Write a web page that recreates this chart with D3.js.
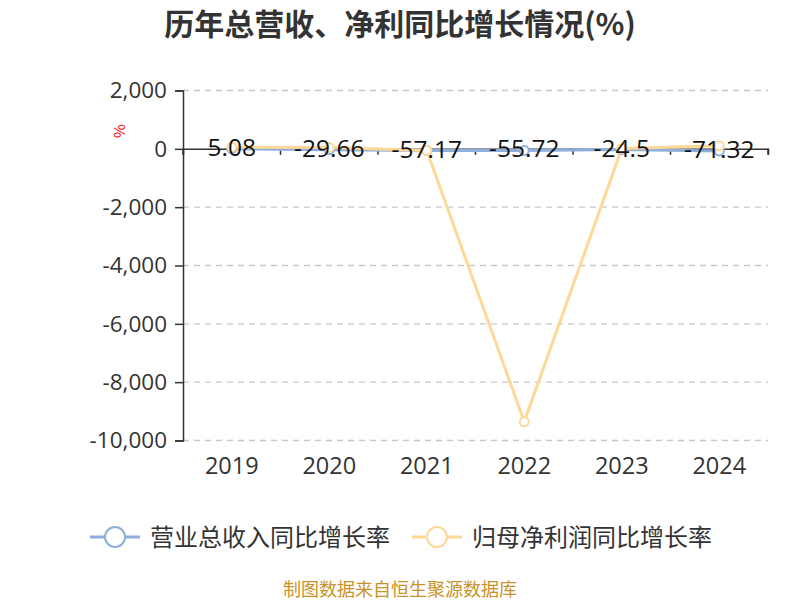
<!DOCTYPE html>
<html><head><meta charset="utf-8">
<script src="https://cdn.jsdelivr.net/npm/d3@7"></script>
<style>body{margin:0;background:#fff;} svg{display:block;font-family:"Microsoft YaHei","Noto Sans CJK SC","Noto Sans",sans-serif;}</style>
</head><body><svg id="c" width="800" height="600"></svg>
<script>
const categories = ["2019","2020","2021","2022","2023","2024"];
const revenueGrowth = [5.08, -29.66, -57.17, -55.72, -24.5, -71.32];
const profitGrowth = [58, 45, -58, -9360, 10, 103];
const yTicks = [2000, 0, -2000, -4000, -6000, -8000, -10000];
const seriesNames = ["营业总收入同比增长率", "归母净利润同比增长率"];
const colors = ["#8eaedc", "#ffd898"];

const svg = d3.select("#c");
const pLeft = 183, pRight = 768, pTop = 90.5, pBottom = 440.5;
const x = d3.scaleBand().domain(categories).range([pLeft, pRight]);
const y = d3.scaleLinear().domain([-10000, 2000]).range([pBottom, pTop]);
const numFont = "'Open Sans','Noto Sans',sans-serif";
const fmt = d => d3.format(",")(d).replace("\u2212", "-");

svg.append("text").attr("x", 400).attr("y", 35).attr("text-anchor", "middle")
  .attr("font-size", 30).attr("font-weight", "bold").attr("fill", "#333")
  .text("历年总营收、净利同比增长情况(%)");

// grid
svg.append("g").selectAll("line").data(yTicks.filter(d => d !== 0)).join("line")
  .attr("x1", pLeft).attr("x2", pRight).attr("y1", d => y(d)).attr("y2", d => y(d))
  .attr("stroke", "#c8c8c8").attr("stroke-dasharray", "6,5").attr("stroke-width", 1.3);

// y axis
const ya = svg.append("g").attr("transform", `translate(${pLeft},0)`)
  .call(d3.axisLeft(y).tickValues(yTicks).tickSize(8).tickPadding(8).tickFormat(fmt));
ya.select(".domain").attr("stroke", "#333").attr("stroke-width", 1.5);
ya.selectAll(".tick line").attr("stroke", "#333").attr("stroke-width", 1.5);
ya.selectAll("text").attr("font-size", 22.5).attr("fill", "#333").attr("font-family", numFont);

svg.append("text").attr("transform", `translate(121,131) rotate(-90)`)
  .attr("text-anchor", "middle").attr("dominant-baseline", "middle")
  .attr("font-size", 15).attr("fill", "#e00").text("%");

// x axis at zero
const xa = svg.append("g").attr("transform", `translate(0,${y(0)})`)
  .call(d3.axisBottom(x).tickSize(6).tickFormat(""));
xa.select(".domain").attr("stroke", "#333").attr("stroke-width", 1.5);
xa.selectAll(".tick line").attr("transform", d => `translate(${-x.bandwidth()/2},0)`)
  .attr("stroke", "#333").attr("stroke-width", 1.5);
xa.append("line").attr("x1", pRight).attr("x2", pRight).attr("y1", 0).attr("y2", 6)
  .attr("stroke", "#333").attr("stroke-width", 1.5);

svg.append("g").selectAll("text").data(categories).join("text")
  .attr("x", d => x(d) + x.bandwidth()/2).attr("y", 474).attr("text-anchor", "middle")
  .attr("font-size", 23.5).attr("fill", "#333").attr("font-family", numFont)
  .text(d => d);

const cx = d => x(d) + x.bandwidth()/2;
const line = d3.line().x((d, i) => cx(categories[i])).y(d => y(d));
[revenueGrowth, profitGrowth].forEach((arr, k) => {
  svg.append("path").datum(arr).attr("d", line).attr("fill", "none")
    .attr("stroke", colors[k]).attr("stroke-width", 3);
});
[revenueGrowth, profitGrowth].forEach((arr, k) => {
  svg.append("g").selectAll("circle").data(arr).join("circle")
    .attr("cx", (d, i) => cx(categories[i])).attr("cy", d => y(d)).attr("r", 4.5)
    .attr("fill", "#fff").attr("stroke", colors[k]).attr("stroke-width", 2);
});

// labels for revenue
svg.append("g").selectAll("text").data(revenueGrowth).join("text")
  .attr("x", (d, i) => cx(categories[i])).attr("y", d => y(d) + 7)
  .attr("text-anchor", "middle").attr("font-size", 24.5).attr("fill", "#111")
  .attr("font-family", numFont)
  .text(d => d);

// legend
const legX = [90, 412];
seriesNames.forEach((n, k) => {
  const g = svg.append("g").attr("transform", `translate(${legX[k]},537)`);
  g.append("line").attr("x1", 0).attr("x2", 50).attr("stroke", colors[k]).attr("stroke-width", 3);
  g.append("circle").attr("cx", 25).attr("r", 10).attr("fill", "#fff").attr("stroke", colors[k]).attr("stroke-width", 2);
  g.append("text").attr("x", 60).attr("y", 9).attr("font-size", 24).attr("fill", "#333").text(n);
});

svg.append("text").attr("x", 400).attr("y", 596).attr("text-anchor", "middle")
  .attr("font-size", 18).attr("fill", "#c8922a").text("制图数据来自恒生聚源数据库");
</script></body></html>
